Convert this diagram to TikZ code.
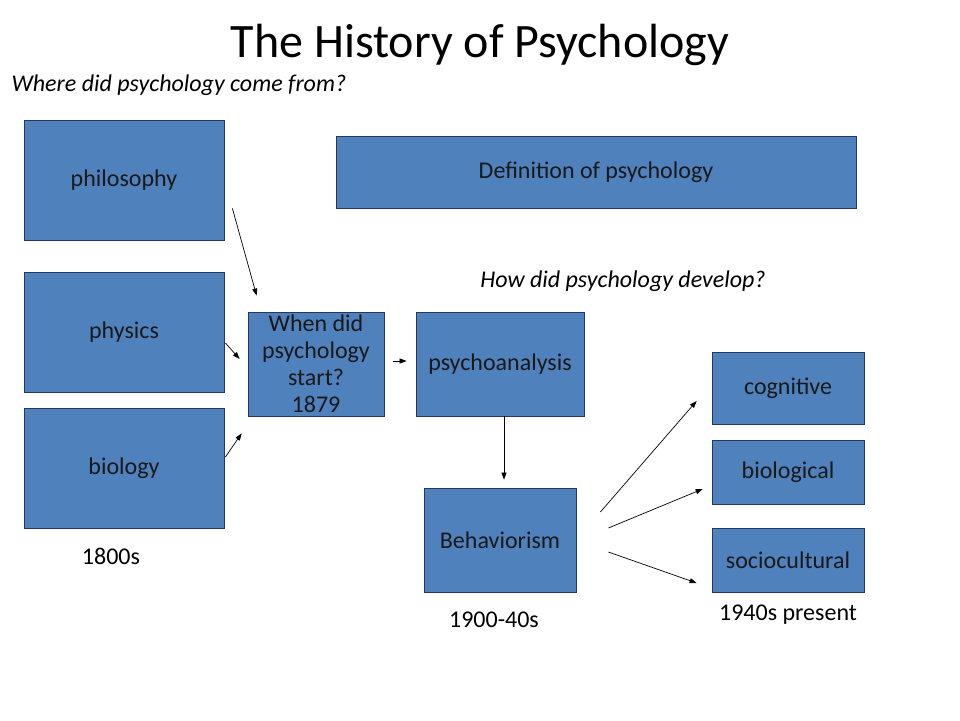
\documentclass[tikz,border=0pt]{standalone}
\usepackage{fontspec}
\setmainfont{Carlito}
\usetikzlibrary{arrows.meta}
\definecolor{boxblue}{HTML}{4F81BD}
\definecolor{boxline}{HTML}{24385A}
\begin{document}
\begin{tikzpicture}[x=1pt, y=-1pt,
    box/.style={draw=boxline, fill=boxblue, line width=0.8pt, inner sep=0pt,
      font=\fontsize{24}{29}\selectfont, text=black!90},
    lbl/.style={font=\fontsize{24}{29}\selectfont},
    arr/.style={-{Triangle[length=7pt,width=5pt]}, line width=0.7pt}]
    \useasboundingbox (0,0) rectangle (960,720);

    % Title
    \node[font=\fontsize{48}{56}\selectfont] (title) at (480,45) {The History of Psychology};
    \node[lbl, anchor=west, font=\fontsize{24}{29}\itshape] (origin) at (8,85) {Where did psychology come from?};

    % Left: roots
    \node[box, minimum width=200pt, minimum height=120pt] (philosophy) at (124,180) {philosophy};
    \node[box, minimum width=200pt, minimum height=120pt] (physics) at (124,332) {physics};
    \node[box, minimum width=200pt, minimum height=120pt] (biology) at (124,468) {biology};
    \node[lbl] (years1) at (111,556) {1800s};

    % Middle
    \node[box, minimum width=520pt, minimum height=72pt] (definition) at (596,172) {Definition of psychology};
    \node[lbl, font=\fontsize{24}{29}\itshape] (develop) at (623,281) {How did psychology develop?};
    \node[box, minimum width=136pt, minimum height=104pt,
      label={[lbl, align=center, font=\fontsize{24}{27}\selectfont, text=black!90]center:When did\\psychology\\start?\\1879}] (start) at (316,364) {};
    \node[box, minimum width=168pt, minimum height=104pt] (psychoanalysis) at (500,364) {psychoanalysis};
    \node[box, minimum width=152pt, minimum height=104pt] (behaviorism) at (500,540) {Behaviorism};
    \node[lbl] (years2) at (494,620) {1900-40s};

    % Right: modern approaches
    \node[box, minimum width=152pt, minimum height=72pt] (cognitive) at (788,388) {cognitive};
    \node[box, minimum width=152pt, minimum height=64pt] (biological) at (788,472) {biological};
    \node[box, minimum width=152pt, minimum height=64pt] (sociocultural) at (788,560) {sociocultural};
    \node[lbl] (years3) at (788,615) {1940s present};

    % Arrows
    \draw[arr] ([shift={(8,-32)}]philosophy.south east) -- ([shift={(9,-16)}]start.north west);
    \draw[arr] ([shift={(1,11)}]physics.east) -- ([shift={(-8,-5)}]start.west);
    \draw[arr] ([shift={(1,-11)}]biology.east) -- ([shift={(-6,17)}]start.south west);
    \draw[arr] ([shift={(9,-3)}]start.east) -- ([shift={(-9,-3)}]psychoanalysis.west);
    \draw[arr] ([shift={(4,0)}]psychoanalysis.south) -- ([shift={(4,-8)}]behaviorism.north);
    \draw[arr] ([shift={(24,-28)}]behaviorism.east) -- ([shift={(-15,13)}]cognitive.west);
    \draw[arr] ([shift={(32,-12)}]behaviorism.east) -- ([shift={(-9,17)}]biological.west);
    \draw[arr] ([shift={(32,12)}]behaviorism.east) -- ([shift={(-15,23)}]sociocultural.west);
\end{tikzpicture}
\end{document}
